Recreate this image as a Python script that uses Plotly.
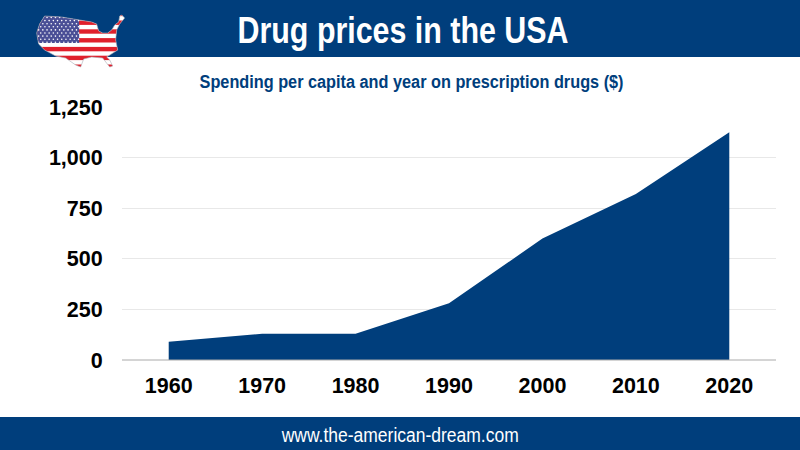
import base64
import plotly.graph_objects as go

years = ["1960", "1970", "1980", "1990", "2000", "2010", "2020"]
spending = [90, 130, 130, 280, 600, 820, 1125]
y_ticks = [0, 250, 500, 750, 1000, 1250]
y_labels = ["0", "250", "500", "750", "1,000", "1,250"]
title = "Drug prices in the USA"
subtitle = "Spending per capita and year on prescription drugs ($)"
footer = "www.the-american-dream.com"

NAVY = "#003e7c"
W, H = 800, 450
L, R, T, B = 122.3, 775.7, 107, 360
FONT = "Liberation Sans, Arial, sans-serif"

def px(x):
    return (x - L) / (R - L)

def py(y):
    return (B - y) / (B - T)

outline = [(45,16),(62,17),(80,20),(92,22),(97,24),(99,31),(103,33),(108,33),(112,30),(115,25),(119,22),(120,16),(122,15),(125,18),(120,24),(117,30),(116,40),(118,50),(107,57),(110,60),(113,66),(110,67),(103,58),(92,57),(84,59),(81,67),(76,65),(66,58),(56,56),(45,50),(39,44),(37,33),(40,24)]
path = "M" + " L".join(f"{x-36},{y-14}" for x, y in outline) + " Z"
stripes = "".join(
    f'<rect x="0" y="{-2.3 + i*8.8:.1f}" width="92" height="4.4" fill="#e0202c"/>' for i in range(7)
)
stars = "".join(
    f'<circle cx="{3 + c*4.2 + (r % 2)*2.1:.1f}" cy="{3.5 + r*3.1:.1f}" r="0.8" fill="#fff"/>'
    for r in range(9) for c in range(10)
)
svg = (
    '<svg xmlns="http://www.w3.org/2000/svg" width="92" height="56" viewBox="0 0 92 56">'
    f'<defs><clipPath id="c"><path d="{path}"/></clipPath></defs>'
    '<g clip-path="url(#c)"><rect width="92" height="56" fill="#fff"/>'
    f'{stripes}<rect width="43.5" height="29" fill="#4a4f96"/>{stars}</g>'
    f'<path d="{path}" fill="none" stroke="#a9adb5" stroke-width="0.6"/></svg>'
)
flag = "data:image/svg+xml;base64," + base64.b64encode(svg.encode()).decode()

fig = go.Figure(go.Scatter(
    x=years, y=spending, mode="none", fill="tozeroy", fillcolor=NAVY, hoverinfo="x+y",
))

band = dict(type="rect", xref="paper", yref="paper", fillcolor=NAVY, line_width=0, layer="below")
tick_font = dict(family=FONT, size=21.5, color="#000", weight=700)
note = dict(xref="paper", yref="paper", showarrow=False, xanchor="center", yanchor="middle")
fig.update_layout(
    width=W, height=H, showlegend=False, autosize=False,
    margin=dict(l=L, r=W - R, t=T, b=H - B, pad=0),
    paper_bgcolor="white", plot_bgcolor="white",
    xaxis=dict(type="category", range=[-0.5, 6.5], showgrid=False, ticks="outside", ticklen=6,
               tickcolor="rgba(0,0,0,0)", showline=False, zeroline=False, tickfont=tick_font, automargin=False),
    yaxis=dict(range=[0, 1250], tickvals=y_ticks, ticktext=y_labels, showgrid=True, gridcolor="#e8e8e8",
               gridwidth=1, zeroline=False, showline=False, ticks="outside", ticklen=14, tickcolor="rgba(0,0,0,0)",
               tickfont=tick_font, automargin=False),
    shapes=[
        dict(band, x0=px(0), x1=px(W), y0=py(0), y1=py(57)),
        dict(band, x0=px(0), x1=px(W), y0=py(417), y1=py(450)),
        dict(type="line", xref="paper", yref="paper", x0=0, x1=1, y0=0, y1=0,
             line=dict(color="#aaaaaa", width=1), layer="above"),
    ],
    images=[dict(source=flag, xref="paper", yref="paper", x=px(36), y=py(14), sizex=92/(R-L), sizey=56/(B-T),
                 xanchor="left", yanchor="top", sizing="stretch", layer="above")],
    annotations=[
        dict(note, text=title, x=px(403.5), y=py(30),
             font=dict(family=FONT, size=36, color="white", weight=700)),
        dict(note, text=subtitle, x=px(412), y=py(82),
             font=dict(family=FONT, size=18, color=NAVY, weight=700)),
        dict(note, text=footer, x=px(399.5), y=py(435),
             font=dict(family=FONT, size=19.5, color="white")),
    ],
)

# No condensed face is installed: the text stays real, its glyphs are narrowed to the reference's widths.
post = """
document.body.style.margin = '0';
var widths = {%r: 331, %r: 424, %r: 237};
document.querySelectorAll('.annotation-text').forEach(function (t) {
  var w = widths[t.textContent];
  if (w) { t.setAttribute('textLength', w); t.setAttribute('lengthAdjust', 'spacingAndGlyphs'); }
});
""" % (title, subtitle, footer)
fig.write_html("out.html", post_script=post, config=dict(displayModeBar=False))
